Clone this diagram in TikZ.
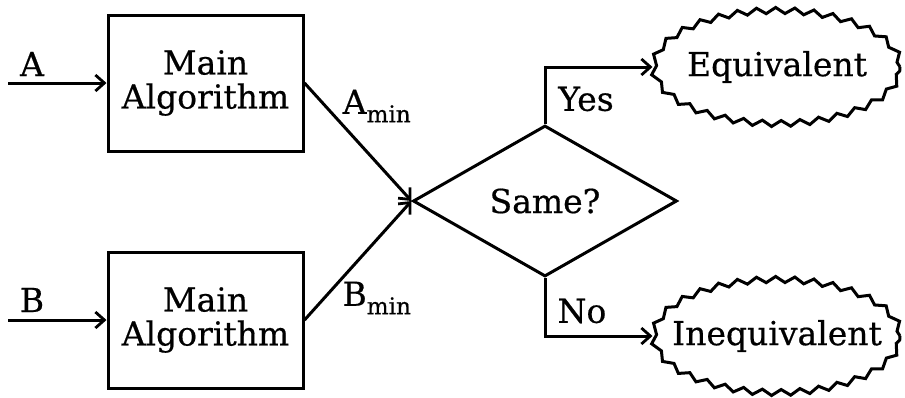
\documentclass[tikz,border=0pt]{standalone}
\usepackage{fontspec}
\setmainfont{DejaVu Serif}[FakeBold=0.5]
\usetikzlibrary{shapes.geometric,decorations.pathmorphing,arrows.meta}
\tikzset{
  lw/.style={line width=3pt},
  txt/.style={font=\fontsize{33}{36}\selectfont},
  algbox/.style={lw,draw,rectangle,minimum width=195pt,minimum height=136pt,align=center,txt,inner sep=0pt},
  decision/.style={lw,draw,diamond,minimum width=264pt,minimum height=151pt,txt,inner sep=0pt},
  result/.style={lw,draw,ellipse,minimum width=246pt,minimum height=113pt,txt,inner sep=0pt,
     decorate,decoration={zigzag,segment length=19pt,amplitude=3pt}},
  arr/.style={lw,-{Straight Barb[length=9pt,width=16pt,line width=2.8pt]}},
  lbl/.style={txt,inner sep=0pt}
}
\begin{document}
\begin{tikzpicture}[x=1pt,y=-1pt]
\useasboundingbox (0,0) rectangle (905,397);
\node[algbox] (m1) at (205.5,83) {Main\\[-2pt]Algorithm};
\node[algbox] (m2) at (205.5,320) {Main\\[-2pt]Algorithm};
\node[decision] (d) at (545,201) {Same?};
\node[result] (eq) at (777,67) {\makebox[0pt]{Equivalent}};
\node[result] (ne) at (777,336) {\makebox[0pt]{Inequivalent}};
\coordinate (ina) at (8,83);
\coordinate (inb) at (8,320);
\node[lbl] (la) at (32,64) {A};
\node[lbl] (lb) at (32,300) {B};
\node[lbl] (lam) at (377,106) {A\textsubscript{min}};
\node[lbl] (lbm) at (377,298) {B\textsubscript{min}};
\node[lbl] (ly) at (586,99) {Yes};
\node[lbl] (ln) at (582,311) {No};
\draw[arr] (ina) -- (m1.west);
\draw[arr] (inb) -- (m2.west);
\draw[arr] (m1.east) -- (d.west);
\draw[arr] (m2.east) -- (d.west);
\draw[arr] (d.north) |- (eq.west);
\draw[arr] (d.south) |- (ne.west);
\end{tikzpicture}
\end{document}
